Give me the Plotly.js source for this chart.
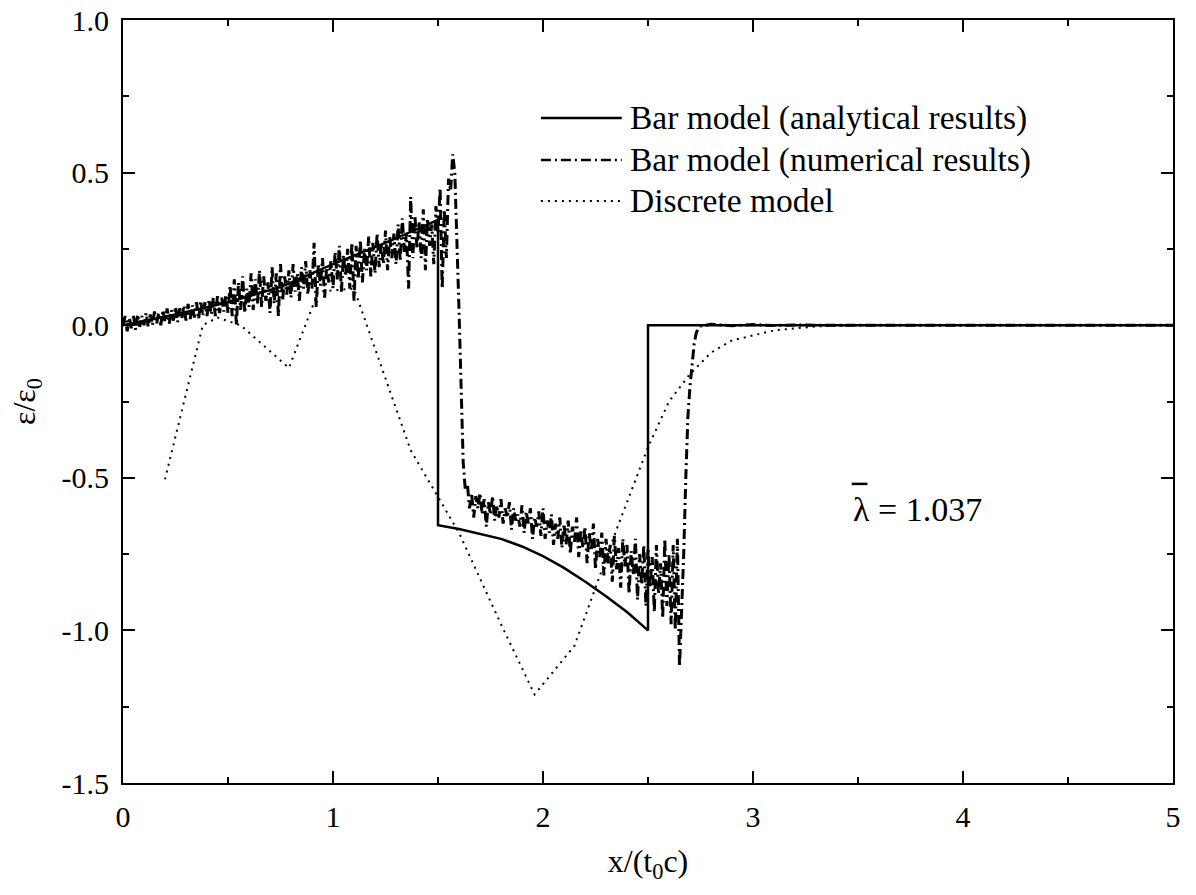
<!DOCTYPE html>
<html>
<head>
<meta charset="utf-8">
<script src="https://cdn.plot.ly/plotly-3.0.1.min.js"></script>
<style>html,body{margin:0;padding:0;background:#fff;}#chart{width:1196px;height:895px;}</style>
</head>
<body>
<div id="chart"></div>
<script>
// Bar model (analytical results)
const anaX = [0, 0.25, 0.5, 0.75, 1.0, 1.25, 1.5, 1.5, 1.6, 1.7, 1.8, 1.9, 2.0, 2.1, 2.2, 2.3, 2.4, 2.5, 2.5, 5.0];
const anaY = [0, 0.035, 0.075, 0.125, 0.2, 0.27, 0.345, -0.655, -0.668, -0.683, -0.700, -0.725, -0.757, -0.795, -0.840, -0.888, -0.940, -1.0, 0, 0];

// Bar model (numerical results), step 0.01 from 0 to 2.75, then tail
const numY = [
  0.00, 0.03, -0.02, 0.025, -0.01, 0.03, -0.015, 0.035, -0.005, 0.03,
  0.00, 0.04, -0.005, 0.035, 0.00, 0.045, 0.005, 0.04, 0.00, 0.05,
  0.01, 0.055, 0.005, 0.05, 0.015, 0.06, 0.01, 0.055, 0.02, 0.065,
  0.015, 0.07, 0.02, 0.065, 0.025, 0.075, 0.02, 0.08, 0.03, 0.075,
  0.03, 0.085, 0.035, 0.09, 0.03, 0.095, 0.04, 0.09, 0.045, 0.10,
  0.04, 0.13, 0.03, 0.15, 0.00, 0.14, 0.05, 0.16, 0.04, 0.12,
  0.06, 0.17, 0.05, 0.15, 0.07, 0.18, 0.06, 0.16, 0.08, 0.14,
  0.04, 0.19, 0.07, 0.17, 0.03, 0.20, 0.08, 0.16, 0.10, 0.18,
  0.09, 0.20, 0.11, 0.17, 0.08, 0.19, 0.12, 0.21, 0.10, 0.18,
  0.12, 0.27, 0.06, 0.20, 0.13, 0.22, 0.09, 0.19, 0.14, 0.21,
  0.12, 0.24, 0.15, 0.26, 0.11, 0.23, 0.16, 0.25, 0.12, 0.27,
  0.08, 0.26, 0.15, 0.28, 0.14, 0.25, 0.18, 0.29, 0.16, 0.27,
  0.17, 0.30, 0.19, 0.27, 0.20, 0.31, 0.18, 0.29, 0.22, 0.30,
  0.20, 0.33, 0.21, 0.35, 0.24, 0.30, 0.12, 0.42, 0.22, 0.36,
  0.25, 0.34, 0.22, 0.38, 0.18, 0.35, 0.26, 0.33, 0.20, 0.39,
  0.30, 0.45, 0.12, 0.38, 0.22, 0.48, 0.44, 0.56, 0.50, 0.30,
  0.05, -0.20, -0.45, -0.54, -0.52, -0.60, -0.55, -0.63, -0.56, -0.60,
  -0.55, -0.62, -0.57, -0.66, -0.58, -0.62, -0.56, -0.64, -0.59, -0.63,
  -0.57, -0.65, -0.60, -0.63, -0.58, -0.67, -0.60, -0.64, -0.62, -0.66,
  -0.59, -0.68, -0.61, -0.65, -0.60, -0.70, -0.63, -0.66, -0.61, -0.69,
  -0.60, -0.70, -0.64, -0.68, -0.62, -0.72, -0.65, -0.70, -0.63, -0.73,
  -0.65, -0.72, -0.64, -0.75, -0.66, -0.71, -0.63, -0.76, -0.67, -0.73,
  -0.66, -0.78, -0.68, -0.74, -0.65, -0.80, -0.70, -0.76, -0.68, -0.82,
  -0.70, -0.78, -0.72, -0.84, -0.69, -0.80, -0.73, -0.86, -0.70, -0.79,
  -0.72, -0.88, -0.74, -0.82, -0.70, -0.90, -0.75, -0.85, -0.72, -0.92,
  -0.73, -0.86, -0.76, -0.94, -0.72, -0.88, -0.78, -0.96, -0.70, -0.92,
  -0.75, -0.98, -0.72, -1.00, -0.70, -1.12, -0.95, -0.75, -0.50, -0.30,
  -0.20, -0.12, -0.06, -0.025, -0.01, -0.003
];
const numTailX = [2.8, 2.9, 3.0, 3.1, 3.2, 3.3, 5.0];
const numTailY = [0.003, -0.002, 0.002, -0.001, 0.001, 0, 0];

// Discrete model
const disX = [0.2, 0.38, 0.45, 0.56, 0.79, 0.93, 1.1, 1.37, 1.6, 1.8, 1.96, 2.15, 2.35, 2.5, 2.6, 2.7, 2.8, 2.9, 3.1, 3.3, 3.5, 5.0];
const disY = [-0.505, 0.0, 0.025, 0.0, -0.14, 0.11, 0.12, -0.41, -0.68, -0.98, -1.21, -1.05, -0.67, -0.40, -0.25, -0.16, -0.09, -0.05, -0.017, -0.004, 0, 0];

const xTickVals = [0, 1, 2, 3, 4, 5];
const xTickText = ['0', '1', '2', '3', '4', '5'];
const yTickVals = [-1.5, -1.0, -0.5, 0.0, 0.5, 1.0];
const yTickText = ['-1.5', '-1.0', '-0.5', '0.0', '0.5', '1.0'];

const legendNames = ['Bar model (analytical results)', 'Bar model (numerical results)', 'Discrete model'];
const lambdaLabel = 'λ = 1.037';

const numX = numY.map((_, i) => +(i * 0.01).toFixed(2)).concat(numTailX);
const numYAll = numY.concat(numTailY);

const FONT = '"Liberation Serif", "Times New Roman", Times, serif';
const dashDot = '10px,4px,2px,4px';
const dotted = '2px,5px';

const traces = [
  {x: anaX, y: anaY, mode: 'lines', line: {color: '#000', width: 2.5}, showlegend: false, name: legendNames[0]},
  {x: numX, y: numYAll, mode: 'lines', line: {color: '#000', width: 3, dash: dashDot}, showlegend: false, name: legendNames[1]},
  {x: disX, y: disY, mode: 'lines', line: {color: '#000', width: 2, dash: dotted}, showlegend: false, name: legendNames[2]}
];

const legY = [0.8716, 0.8165, 0.7628];
const legDash = ['solid', dashDot, dotted];
const legW = [2.5, 2.5, 2];
const shapes = [];
const annotations = [];
legendNames.forEach((n, i) => {
  shapes.push({type: 'line', xref: 'paper', yref: 'paper', x0: 0.398, x1: 0.475, y0: legY[i], y1: legY[i],
    line: {color: '#000', width: legW[i], dash: legDash[i]}});
  annotations.push({xref: 'paper', yref: 'paper', x: 0.481, y: legY[i], xanchor: 'left', yanchor: 'middle',
    text: n, showarrow: false, font: {family: FONT, size: 33.5, color: '#000'}});
});
annotations.push({xref: 'paper', yref: 'paper', x: 0.693, y: 0.358, xanchor: 'left', yanchor: 'middle',
  text: lambdaLabel, showarrow: false, font: {family: FONT, size: 34, color: '#000'}});
shapes.push({type: 'line', xref: 'paper', yref: 'paper', x0: 0.694, x1: 0.709, y0: 0.392, y1: 0.392,
  line: {color: '#000', width: 2.5}});

const layout = {
  width: 1196, height: 895,
  margin: {l: 123, r: 23, t: 20, b: 112, pad: 0},
  paper_bgcolor: '#fff', plot_bgcolor: '#fff',
  font: {family: FONT, size: 30, color: '#000'},
  showlegend: false,
  xaxis: {
    range: [0, 5], showgrid: false, zeroline: false,
    showline: true, linewidth: 2, linecolor: '#000', mirror: 'allticks',
    ticks: 'inside', ticklen: 12, tickwidth: 2, tickcolor: '#000',
    tickvals: xTickVals, ticktext: xTickText, ticklabelstandoff: 6,
    tickfont: {family: FONT, size: 30, color: '#000'},
    minor: {dtick: 0.5, tick0: 0, ticks: 'inside', ticklen: 6, tickwidth: 2, tickcolor: '#000', showgrid: false},
    title: {text: 'x/(t<sub>0</sub>c)', font: {family: FONT, size: 32, color: '#000'}, standoff: 18}
  },
  yaxis: {
    range: [-1.5, 1.0], showgrid: false, zeroline: false,
    showline: true, linewidth: 2, linecolor: '#000', mirror: 'allticks',
    ticks: 'inside', ticklen: 12, tickwidth: 2, tickcolor: '#000',
    tickvals: yTickVals, ticktext: yTickText, ticklabelstandoff: 6,
    tickfont: {family: FONT, size: 30, color: '#000'},
    minor: {dtick: 0.25, tick0: 0, ticks: 'inside', ticklen: 6, tickwidth: 2, tickcolor: '#000', showgrid: false},
    title: {text: 'ε/ε<sub>0</sub>', font: {family: FONT, size: 32, color: '#000'}, standoff: 16}
  },
  shapes: shapes,
  annotations: annotations
};

Plotly.newPlot('chart', traces, layout, {displayModeBar: false, staticPlot: true});
</script>
</body>
</html>
